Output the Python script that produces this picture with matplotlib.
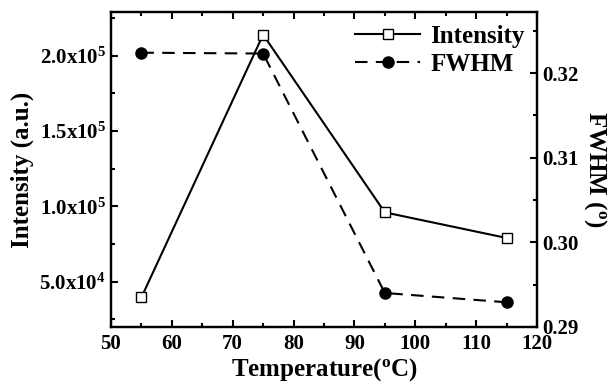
import numpy as np
import matplotlib
matplotlib.use('Agg')
import matplotlib.pyplot as plt
from matplotlib.ticker import MultipleLocator, FixedLocator, FixedFormatter

plt.rcParams['font.family'] = ['Liberation Serif', 'DejaVu Serif']
plt.rcParams['font.weight'] = 'bold'
plt.rcParams['mathtext.fontset'] = 'custom'
plt.rcParams['mathtext.rm'] = 'Liberation Serif:bold'
plt.rcParams['mathtext.bf'] = 'Liberation Serif:bold'
plt.rcParams['mathtext.default'] = 'rm'

temp = np.array([55, 75, 95, 115])
intensity = np.array([3.95e4, 2.14e5, 9.6e4, 7.9e4])
fwhm = np.array([0.3224, 0.3223, 0.2940, 0.2929])

int_ticks = [5.0e4, 1.0e5, 1.5e5, 2.0e5]
int_labels = ['5.0x10$^{4}$', '1.0x10$^{5}$', '1.5x10$^{5}$', '2.0x10$^{5}$']

fig = plt.figure(figsize=(6.13, 3.9), dpi=100)
ax = fig.add_axes([0.181, 0.162, 0.695, 0.807])
ax2 = ax.twinx()

l1, = ax.plot(temp, intensity, '-', color='black', lw=1.5, marker='s', ms=7,
              mfc='white', mec='black', mew=1.0, label='Intensity')
l2, = ax2.plot(temp, fwhm, '--', color='black', lw=1.5, marker='o', ms=8,
               mfc='black', mec='black', dashes=(6, 4), label='FWHM')

ax.set_xlim(50, 120)
ax.set_ylim(2.0e4, 2.29e5)
ax2.set_ylim(0.29, 0.3272)

ax.xaxis.set_major_locator(MultipleLocator(10))
ax.xaxis.set_minor_locator(MultipleLocator(5))
ax.yaxis.set_major_locator(FixedLocator(int_ticks))
ax.yaxis.set_major_formatter(FixedFormatter(int_labels))
ax.yaxis.set_minor_locator(MultipleLocator(2.5e4))
ax2.yaxis.set_major_locator(MultipleLocator(0.01))
ax2.yaxis.set_minor_locator(MultipleLocator(0.005))
ax2.yaxis.set_major_formatter(plt.FormatStrFormatter('%.2f'))

ax.tick_params(axis='x', which='both', direction='in', top=True, labelsize=15, width=1.5, pad=5)
ax.tick_params(axis='y', which='both', direction='in', labelsize=15, width=1.5)
ax.tick_params(which='major', length=5)
ax.tick_params(which='minor', length=3)
ax2.tick_params(axis='y', which='both', direction='in', labelsize=15, width=1.5)
ax2.tick_params(which='major', length=5)
ax2.tick_params(which='minor', length=3)

for a in (ax, ax2):
    for s in a.spines.values():
        s.set_linewidth(1.6)

ax.set_xlabel('Temperature($^{\\rm o}$C)', fontsize=18, fontweight='bold', labelpad=2)
ax.set_ylabel('Intensity (a.u.)', fontsize=18, fontweight='bold', labelpad=4)
ax2.set_ylabel('FWHM ($^{\\rm o}$)', fontsize=18, fontweight='bold', rotation=270, labelpad=22)

ax.legend([l1, l2], ['Intensity', 'FWHM'], loc='upper right', frameon=False,
          handlelength=2.6, borderaxespad=0.1, labelspacing=0.2,
          handletextpad=0.4, prop={'weight': 'bold', 'size': 18})

fig.savefig('out.png', dpi=100)
